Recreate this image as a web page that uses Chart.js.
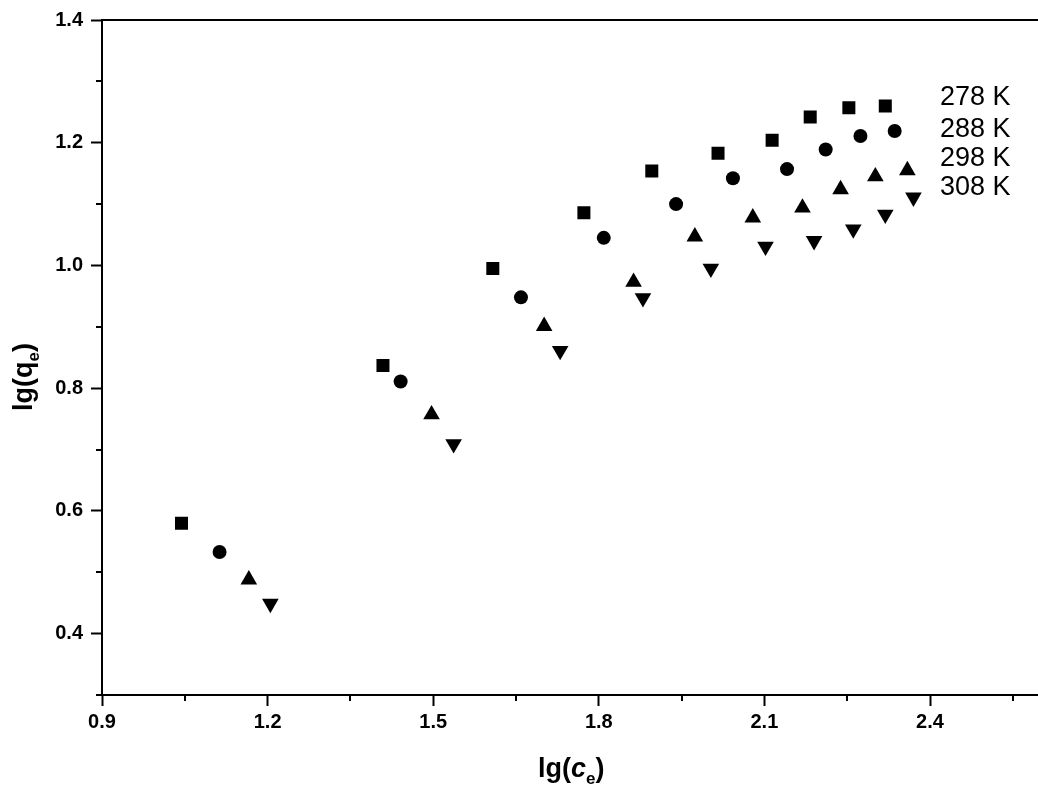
<!DOCTYPE html>
<html lang="en">
  <head>
    <meta charset="UTF-8" />
    <title>lg(qe) - lg(ce)</title>
    <style>
      html, body {
        margin: 0;
        padding: 0;
        background: #fff;
        overflow: hidden;
      }
      #chart {
        display: block;
      }
    </style>
  </head>
  <body>
    <canvas id="chart" width="1050" height="785"></canvas>
    <script src="https://cdn.jsdelivr.net/npm/chart.js"></script>
    <script>
      // values
      const seriesNames = ["278 K", "288 K", "298 K", "308 K"];

      const lgCe278 = [1.044, 1.409, 1.608, 1.773, 1.896, 2.016, 2.114, 2.183, 2.253, 2.319];
      const lgQe278 = [0.580, 0.837, 0.995, 1.086, 1.154, 1.183, 1.204, 1.242, 1.257, 1.260];

      const lgCe288 = [1.113, 1.441, 1.659, 1.809, 1.940, 2.043, 2.141, 2.211, 2.274, 2.336];
      const lgQe288 = [0.533, 0.811, 0.948, 1.045, 1.100, 1.142, 1.157, 1.189, 1.211, 1.219];

      const lgCe298 = [1.166, 1.497, 1.701, 1.863, 1.974, 2.079, 2.169, 2.238, 2.301, 2.359];
      const lgQe298 = [0.488, 0.757, 0.901, 0.973, 1.047, 1.078, 1.094, 1.124, 1.145, 1.155];

      const lgCe308 = [1.205, 1.537, 1.730, 1.880, 2.003, 2.102, 2.190, 2.261, 2.319, 2.370];
      const lgQe308 = [0.449, 0.709, 0.861, 0.947, 0.995, 1.031, 1.040, 1.059, 1.083, 1.111];

      const xTicks = [0.9, 1.2, 1.5, 1.8, 2.1, 2.4];
      const xMinor = [1.05, 1.35, 1.65, 1.95, 2.25, 2.55];
      const yTicks = [0.4, 0.6, 0.8, 1.0, 1.2, 1.4];
      const yMinor = [0.3, 0.5, 0.7, 0.9, 1.1, 1.3];

      const FONT = "'Liberation Sans', Arial, sans-serif";
      Chart.defaults.font.family = FONT;
      Chart.defaults.color = "#000";

      function toPoints(xs, ys) {
        return xs.map((x, i) => ({ x: x, y: ys[i] }));
      }

      function makeSet(label, xs, ys, style, radius, rotation) {
        return {
          label: label,
          data: toPoints(xs, ys),
          pointStyle: style,
          pointRadius: radius,
          pointHoverRadius: radius,
          pointRotation: rotation,
          pointBackgroundColor: "#000",
          pointBorderColor: "#000",
          pointBorderWidth: 0,
          showLine: false,
        };
      }

      // frame, minor ticks, axis titles and the series labels
      const extras = {
        id: "extras",
        afterDraw(chart) {
          const ctx = chart.ctx;
          const area = chart.chartArea;
          const xs = chart.scales.x;
          const ys = chart.scales.y;
          ctx.save();
          ctx.strokeStyle = "#000";
          ctx.lineWidth = 2;

          // top and right frame
          ctx.beginPath();
          ctx.moveTo(area.left, area.top);
          ctx.lineTo(area.right, area.top);
          ctx.lineTo(area.right, area.bottom);
          ctx.stroke();

          // minor ticks
          ctx.beginPath();
          xMinor.forEach(v => {
            const px = Math.round(xs.getPixelForValue(v));
            ctx.moveTo(px, area.bottom);
            ctx.lineTo(px, area.bottom + 6);
          });
          yMinor.forEach(v => {
            const py = Math.round(ys.getPixelForValue(v));
            ctx.moveTo(area.left - 6, py);
            ctx.lineTo(area.left, py);
          });
          ctx.stroke();

          ctx.fillStyle = "#000";
          ctx.textBaseline = "alphabetic";
          ctx.textAlign = "left";

          // x title: lg(c_e)
          const big = "bold 27px " + FONT;
          const bigIt = "italic bold 27px " + FONT;
          const small = "bold 17px " + FONT;
          let parts = [
            { t: "lg(", f: big, dy: 0 },
            { t: "c", f: bigIt, dy: 0 },
            { t: "e", f: small, dy: 7 },
            { t: ")", f: big, dy: 0 },
          ];
          let w = 0;
          parts.forEach(p => { ctx.font = p.f; w += ctx.measureText(p.t).width; });
          let cx = (area.left + area.right) / 2 - w / 2;
          const base = area.bottom + 82;
          parts.forEach(p => {
            ctx.font = p.f;
            ctx.fillText(p.t, cx, base + p.dy);
            cx += ctx.measureText(p.t).width;
          });

          // y title: lg(q_e), rotated
          parts = [
            { t: "lg(q", f: big, dy: 0 },
            { t: "e", f: small, dy: 7 },
            { t: ")", f: big, dy: 0 },
          ];
          w = 0;
          parts.forEach(p => { ctx.font = p.f; w += ctx.measureText(p.t).width; });
          ctx.save();
          ctx.translate(32, area.top + 357);
          ctx.rotate(-Math.PI / 2);
          cx = -w / 2;
          parts.forEach(p => {
            ctx.font = p.f;
            ctx.fillText(p.t, cx, p.dy);
            cx += ctx.measureText(p.t).width;
          });
          ctx.restore();

          // series labels at the top right
          ctx.font = "27px " + FONT;
          ctx.textBaseline = "middle";
          const rows = [78, 110, 139, 168];
          seriesNames.forEach((name, i) => {
            ctx.fillText(name, area.left + 838, area.top + rows[i]);
          });
          ctx.restore();
        },
      };

      new Chart(document.getElementById("chart"), {
        type: "scatter",
        data: {
          datasets: [
            makeSet(seriesNames[0], lgCe278, lgQe278, "rect", 9.2, 0),
            makeSet(seriesNames[1], lgCe288, lgQe288, "circle", 7, 0),
            makeSet(seriesNames[2], lgCe298, lgQe298, "triangle", 9.6, 0),
            makeSet(seriesNames[3], lgCe308, lgQe308, "triangle", 9.6, 180),
          ],
        },
        options: {
          responsive: false,
          animation: false,
          layout: { padding: { top: 20, right: 3, left: 0, bottom: 0 } },
          plugins: {
            legend: { display: false },
            tooltip: { enabled: false },
          },
          scales: {
            x: {
              type: "linear",
              min: 0.9,
              max: 2.6,
              afterBuildTicks: s => { s.ticks = xTicks.map(v => ({ value: v })); },
              afterFit: s => { s.height = 90; },
              ticks: {
                callback: v => v.toFixed(1),
                font: { size: 20, weight: "bold" },
                padding: 4,
                maxRotation: 0,
              },
              grid: {
                drawOnChartArea: false,
                drawTicks: true,
                tickLength: 11,
                tickColor: "#000",
                tickWidth: 2,
              },
              border: { display: true, color: "#000", width: 2 },
            },
            y: {
              type: "linear",
              min: 0.3,
              max: 1.4,
              afterBuildTicks: s => { s.ticks = yTicks.map(v => ({ value: v })); },
              afterFit: s => { s.width = 102; },
              ticks: {
                callback: v => v.toFixed(1),
                font: { size: 20, weight: "bold" },
                padding: 8,
              },
              grid: {
                drawOnChartArea: false,
                drawTicks: true,
                tickLength: 11,
                tickColor: "#000",
                tickWidth: 2,
              },
              border: { display: true, color: "#000", width: 2 },
            },
          },
        },
        plugins: [extras],
      });
    </script>
  </body>
</html>
